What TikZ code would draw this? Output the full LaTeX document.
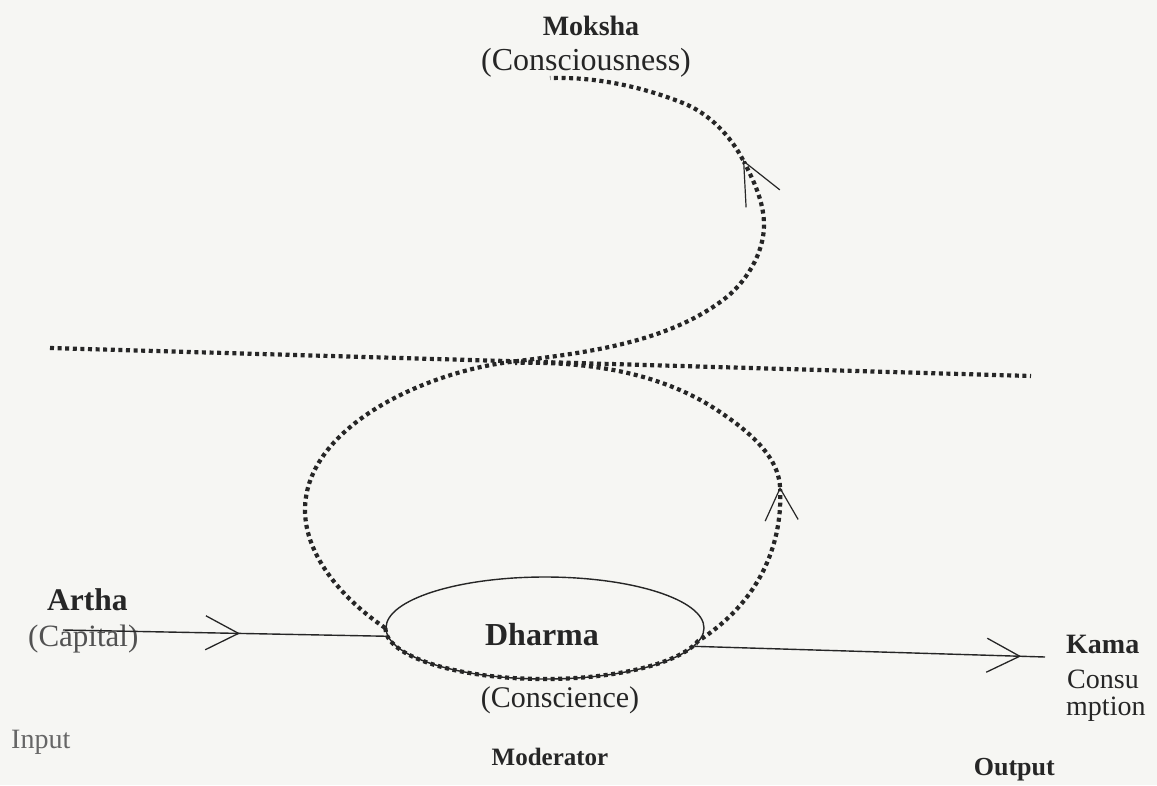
\documentclass[tikz,border=0pt]{standalone}
\usepackage{fontspec}
\setmainfont{Liberation Serif}
\usepackage{xcolor}
\usetikzlibrary{arrows.meta,decorations.markings,shapes.geometric}
\definecolor{paper}{RGB}{246,246,243}
\definecolor{ink}{RGB}{38,38,38}

\begin{document}
\begin{tikzpicture}[x=1pt,y=-1pt,
  lbl/.style={inner sep=0pt,text=ink},
  flow/.style={draw=ink,line width=1.4pt},
  dots/.style={draw=ink,line width=4.2pt,dash pattern=on 4pt off 3.6pt},
  upbarb/.style={-{Straight Barb[length=42pt,width=38pt,line width=1.2pt]}},
  lowbarb/.style={-{Straight Barb[length=32pt,width=33pt,line width=1.2pt]}},
  midbarb/.style={postaction={decorate},decoration={markings,
      mark=at position #1 with {\arrow{Straight Barb[length=33pt,width=34pt,line width=1.3pt]}}}}]
  \fill[paper] (0,0) rectangle (1157,785);
  \useasboundingbox (0,0) rectangle (1157,785);

  % the four goals
  \node[lbl,anchor=base,font=\bfseries\fontsize{28}{32}\selectfont] (moksha) at (591,35) {Moksha};
  \node[lbl,anchor=base,font=\fontsize{32}{38}\selectfont] (consc) at (586,70) {(Consciousness)};
  \node[lbl,anchor=base west,font=\bfseries\fontsize{31.5}{36}\selectfont] (artha) at (47,610) {Artha};
  \node[lbl,anchor=base west,font=\fontsize{31}{36}\selectfont,text=black!68] (capital) at (28,646) {(Capital)};
  \node[lbl,anchor=base west,font=\fontsize{28}{32}\selectfont,text=black!60] (input) at (11,748) {Input};
  \node[draw=ink,line width=1.4pt,ellipse,minimum width=318pt,minimum height=102pt,inner sep=0pt] (ring) at (545,628) {};
  \node[lbl,anchor=base,font=\bfseries\fontsize{32}{36}\selectfont] (dharma) at (542,645) {Dharma};
  \node[lbl,anchor=base,font=\fontsize{30}{36}\selectfont] (consci) at (560,707) {(Conscience)};
  \node[lbl,anchor=base,font=\bfseries\fontsize{25}{30}\selectfont] (moderator) at (550,765) {Moderator};
  \node[lbl,anchor=base west,font=\bfseries\fontsize{28}{32}\selectfont] (kama) at (1066,653) {Kama};
  \node[lbl,anchor=base west,font=\fontsize{28}{32}\selectfont] (consu) at (1067,688) {Consu};
  \node[lbl,anchor=base west,font=\fontsize{28}{32}\selectfont] (mption) at (1066,715) {mption};
  \node[lbl,anchor=base east,font=\bfseries\fontsize{26}{30}\selectfont] (output) at (1055,775) {Output};

  \coordinate (in) at (63,630);
  \coordinate (out) at (1045,657);
  \coordinate (cutL) at (50,348);
  \coordinate (cutR) at (1031,376);
  \coordinate (top) at (550,78);
  \coordinate (tipU) at (743,160);
  \coordinate (tipL) at (780,487);
  \coordinate (cross) at (510,362);
  \coordinate (merge) at (515,363);

  \draw[flow,midbarb=177pt] (in) -- (ring.183);
  \draw[flow,midbarb=327pt] (ring.-7) -- (out);
  \draw[dots] (cutL) -- (cutR);

  % left side of the lower loop, through the cut, up to the top
  \draw[dots,upbarb] (ring.west) .. controls (345,601) and (305,557) .. (305,510)
    .. controls (305,426) and (427,372) .. (cross)
    .. controls (583,353) and (664,344) .. (723,300)
    .. controls (746,283) and (764,253) .. (764,225)
    .. controls (764,202) and (753.5,180.3) .. (tipU);
  \draw[dots] (tipU) .. controls (730.3,135.4) and (708.7,113.2) .. (683,103)
    .. controls (641,86.3) and (595,76.7) .. (top);
  % bottom of the ring and the right side back to the cut
  \draw[dots,lowbarb] (ring.west) arc[start angle=180,end angle=15,x radius=159,y radius=51]
    .. controls (765,598.6) and (782.5,537) .. (tipL);
  \draw[dots] (tipL) .. controls (778.3,454) and (744.4,428.2) .. (717,410)
    .. controls (662,373.7) and (591,361) .. (merge);
\end{tikzpicture}
\end{document}
